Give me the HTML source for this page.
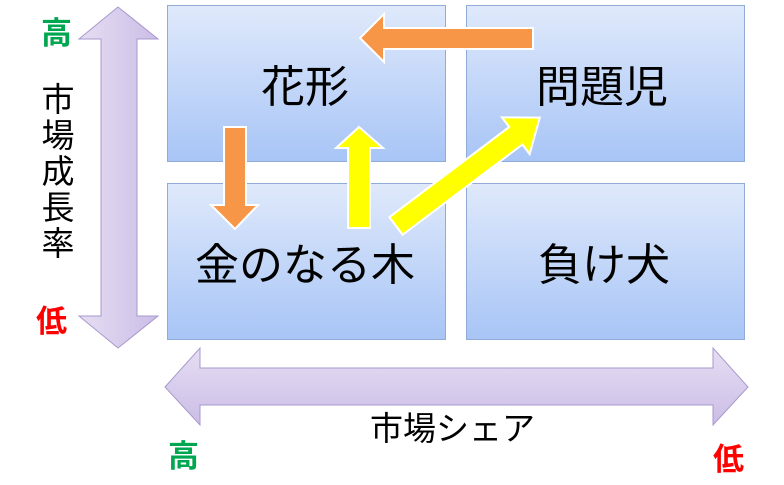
<!DOCTYPE html>
<html><head><meta charset="utf-8"><style>
body{margin:0;width:784px;height:485px;background:#fff;position:relative;overflow:hidden;font-family:"Liberation Sans","Noto Sans CJK JP",sans-serif}
.b{position:absolute;width:279px;height:157px;border:1px solid #8fabd6;background:linear-gradient(#dfe9fb,#a8c5f6);box-sizing:border-box}
.t{position:absolute;font-size:44px;color:#000;white-space:nowrap;transform:translate(-50%,-50%);line-height:1}
.s{position:absolute;font-weight:bold;font-size:31px;line-height:1}
</style></head><body>
<div class="b" style="left:167px;top:5px"></div>
<div class="b" style="left:466px;top:5px"></div>
<div class="b" style="left:167px;top:183px"></div>
<div class="b" style="left:466px;top:183px"></div>
<svg width="784" height="485" style="position:absolute;left:0;top:0">
<defs>
<linearGradient id="pv" x1="0" x2="1" y1="0" y2="0"><stop offset="0" stop-color="#e6def3"/><stop offset="1" stop-color="#cbbde6"/></linearGradient>
<linearGradient id="ph" x1="0" x2="0" y1="0" y2="1"><stop offset="0" stop-color="#e6def3"/><stop offset="1" stop-color="#cbbde6"/></linearGradient>
</defs>
<polygon points="118,7 158,39 137,39 137,316 158,316 118,348 79,316 101,316 101,39 79,39" fill="url(#pv)" stroke="#a898cc" stroke-width="1"/>
<polygon points="165,387 200,348 200,368 713,368 713,348 748,387 713,425 713,405 200,405 200,425" fill="url(#ph)" stroke="#a898cc" stroke-width="1"/>
<polygon points="360,38 384,14 384,28 533,28 533,49 384,49 384,62" fill="#f79646" stroke="#fff" stroke-width="2"/>
<polygon points="224,127 246,127 246,205 258,205 235,229 211,205 224,205" fill="#f79646" stroke="#fff" stroke-width="2"/>
<polygon points="348,228 370,228 370,148 383,148 359,127 336,148 348,148" fill="#ffff00" stroke="#fff" stroke-width="2"/>
<g transform="translate(396,226) rotate(-37)">
<polygon points="0,-11 150,-11 150,-23 180,0 150,23 150,11 0,11" fill="#ffff00" stroke="#fff" stroke-width="2"/>
</g>
</svg>
<div class="t" style="left:305px;top:88px">花形</div>
<div class="t" style="left:602px;top:88px">問題児</div>
<div class="t" style="left:305px;top:266px">金のなる木</div>
<div class="t" style="left:604px;top:266px">負け犬</div>
<div class="s" style="left:41px;top:18px;color:#00a650">高</div>
<div style="position:absolute;left:40px;top:82px;width:36px;font-size:33px;line-height:36px;text-align:center">市<br>場<br>成<br>長<br>率</div>
<div class="s" style="left:36px;top:306px;color:#ff0000">低</div>
<div style="position:absolute;left:370px;top:412px;font-size:33px;line-height:1">市場シェア</div>
<div class="s" style="left:168px;top:441px;color:#00a650">高</div>
<div class="s" style="left:713px;top:444px;color:#ff0000">低</div>
</body></html>
